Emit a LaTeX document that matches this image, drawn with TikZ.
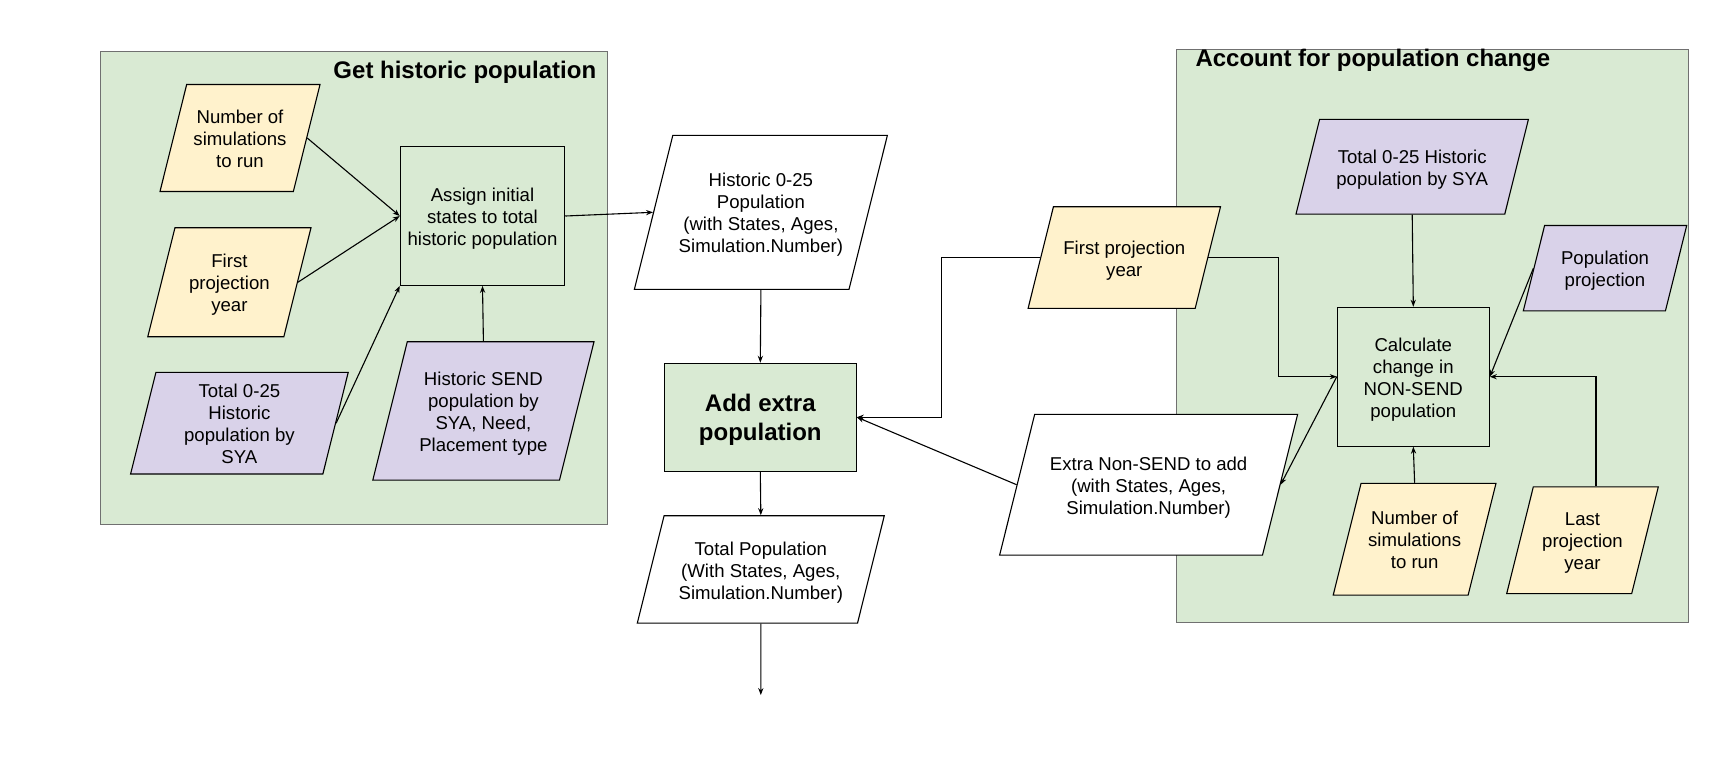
\documentclass[tikz,border=0pt]{standalone}
\usepackage{fontspec}
\setmainfont{Liberation Sans}
\usetikzlibrary{shapes.geometric,arrows.meta}

\definecolor{grpgreen}{HTML}{D9EAD3}
\definecolor{inyellow}{HTML}{FFF2CC}
\definecolor{inpurple}{HTML}{D9D2E9}
\definecolor{grpline}{HTML}{707070}

% text of a node, in a box as tall as the node
\newcommand{\inlines}[2]{\vbox to #1{\vfil\kern1.6pt\hbox{\begin{tabular}{@{}c@{}}#2\end{tabular}}\kern-1.6pt\vfil}}

\begin{document}
\begin{tikzpicture}[
    x=0.5pt,
    y=-0.5pt,
    line width=0.55pt,
    group/.style={
      draw=grpline,
      fill=grpgreen,
      inner sep=0pt
    },
    grouptitle/.style={
      font=\bfseries\fontsize{12}{14}\selectfont,
      inner sep=0pt
    },
    data/.style={
      trapezium,
      trapezium left angle=76,
      trapezium right angle=104,
      trapezium stretches body,
      draw,
      inner sep=0pt,
      font=\fontsize{9.3}{11}\selectfont
    },
    process/.style={
      rectangle,
      draw,
      fill=grpgreen,
      inner sep=0pt,
      font=\fontsize{9.3}{11}\selectfont
    },
    flow/.style={
      -{Stealth[length=3.5pt,width=2.6pt]}
    }
  ]
    \fill[white] (0,0) rectangle (1728,768);
    \useasboundingbox (0,0) rectangle (1728,768);

    % groups
    \node[group,minimum width=253.65pt,minimum height=236.3pt] (gHist) at (353.7,288) {};
    \node[grouptitle,anchor=base east] (tHist) at (596.7,78.3) {Get historic population};
    \node[group,minimum width=255.8pt,minimum height=286.7pt] (gChange) at (1432.5,336) {};
    \node[grouptitle,anchor=base west] (tChange) at (1195,66.7) {Account for population change};

    % historic population
    \node[data,fill=inyellow,minimum width=80pt] (numsimsL) at (240,138) {\inlines{53.5pt}{Number of\\simulations\\to run}};
    \node[data,fill=inyellow,minimum width=81.6pt] (firstL) at (229.4,282.2) {\inlines{54.5pt}{First\\projection\\year}};
    \node[data,fill=inpurple,minimum width=108.8pt] (totalL) at (239.4,423.2) {\inlines{50.8pt}{Total 0-25\\Historic\\population by\\SYA}};
    \node[process,minimum width=82.2pt] (assign) at (482.5,216) {\inlines{69.3pt}{Assign initial\\states to total\\historic population}};
    \node[data,fill=inpurple,minimum width=110.6pt] (sendL) at (483.4,410.9) {\inlines{69.2pt}{Historic SEND\\population by\\SYA, Need,\\Placement type}};

    % middle column
    \node[data,fill=white,minimum width=126.5pt] (hist) at (760.9,212.3) {\inlines{77pt}{Historic 0-25\\Population\\(with States, Ages,\\Simulation.Number)}};
    \node[process,font=\bfseries\fontsize{12}{14.2}\selectfont,minimum width=96pt] (add) at (760.3,417.2) {\inlines{53.9pt}{Add extra\\population}};
    \node[data,fill=white,minimum width=123.5pt] (totalpop) at (760.8,569.4) {\inlines{53.7pt}{Total Population\\(With States, Ages,\\Simulation.Number)}};
    \coordinate (out) at (760.8,695);
    \node[data,fill=inyellow,minimum width=96.2pt] (firstM) at (1124.3,257.5) {\inlines{50.8pt}{First projection\\year}};
    \node[data,fill=white,minimum width=149pt] (extra) at (1148.6,484.7) {\inlines{70.4pt}{Extra Non-SEND to add\\(with States, Ages,\\Simulation.Number)}};

    % population change
    \node[data,fill=inpurple,minimum width=116.2pt] (totalR) at (1412.2,166.7) {\inlines{47.4pt}{Total 0-25 Historic\\population by SYA}};
    \node[data,fill=inpurple,minimum width=81.7pt] (popproj) at (1605,268.2) {\inlines{42.7pt}{Population\\projection}};
    \node[process,minimum width=76pt] (calc) at (1413.3,376.7) {\inlines{69.4pt}{Calculate\\change in\\NON-SEND\\population}};
    \node[data,fill=inyellow,minimum width=81.4pt] (numsimsR) at (1414.6,539.2) {\inlines{55.9pt}{Number of\\simulations\\to run}};
    \node[data,fill=inyellow,minimum width=75.8pt] (lastR) at (1582.5,540.2) {\inlines{53.4pt}{Last\\projection\\year}};

    \draw[flow] (numsimsL.right side) -- (assign.west);
    \draw[flow] (firstL.right side) -- (assign.west);
    \draw[flow] (totalL.right side) -- (assign.south west);
    \draw[flow] (sendL.north) -- (assign.south);
    \draw[flow] (assign.east) -- (hist.left side);
    \draw[flow] (hist.south) -- (add.north);
    \draw[flow] (add.south) -- (totalpop.north);
    \draw[flow] (totalpop.south) -- (out);
    \draw[flow] (firstM.left side) -- ++(-98.5,0) |- (add.east);
    \draw[flow] (extra.left side) -- (add.east);
    \draw[flow] (firstM.right side) -- ++(70.4,0) |- (calc.west);
    \draw[flow] (calc.west) -- (extra.right side);
    \draw[flow] (totalR.south) -- (calc.north);
    \draw[flow] (numsimsR.north) -- (calc.south);
    \draw[flow] (popproj.left side) -- (calc.east);
    \draw[flow] (lastR.top side) |- (calc.east);
  \end{tikzpicture}
\end{document}
